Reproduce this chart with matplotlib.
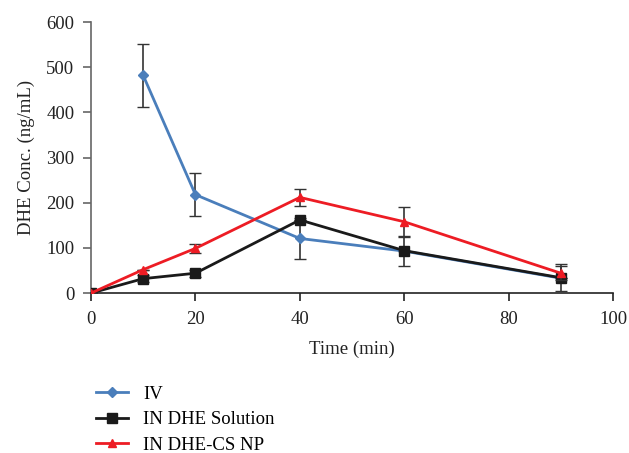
import matplotlib.pyplot as plt
import numpy as np

#---data---#
time = [0, 10, 20, 40, 60, 90]
iv = [0, 482, 218, 121, 93, 33]
iv_err = [0, 70, 47, 46, 0, 0]
sol = [0, 32, 44, 162, 94, 34]
sol_err = [0, 8, 8, 0, 33, 30]
np_cs = [0, 52, 99, 212, 158, 44]
np_err = [0, 0, 10, 18, 33, 16]
labels = ["IV", "IN DHE Solution", "IN DHE-CS NP"]

plt.rcParams['font.family'] = ['Liberation Serif', 'DejaVu Serif']

fig = plt.figure(figsize=(6.29, 4.53), dpi=100)
ax = fig.add_axes([0.1447, 0.353, 0.83, 0.598])

ax.errorbar(time[1:], iv[1:], yerr=iv_err[1:], color="#4a7ebb", lw=2, marker="D", ms=5,
            ecolor="#333333", elinewidth=1.2, capsize=4, label=labels[0], zorder=3)
ax.errorbar(time, sol, yerr=sol_err, color="#1a1a1a", lw=2, marker="s", ms=7,
            ecolor="#333333", elinewidth=1.2, capsize=4, label=labels[1], zorder=4)
ax.errorbar(time, np_cs, yerr=np_err, color="#ed1c24", lw=2, marker="^", ms=6,
            ecolor="#333333", elinewidth=1.2, capsize=4, label=labels[2], zorder=5)

ax.set_xlim(0, 100)
ax.set_ylim(0, 600)
ax.set_xticks(np.arange(0, 101, 20))
ax.set_yticks(np.arange(0, 601, 100))
ax.set_xlabel("Time (min)", fontsize=13.5, color="#222222", labelpad=9)
ax.set_ylabel("DHE Conc. (ng/mL)", fontsize=13.5, color="#222222", labelpad=8)
for s in ["top", "right"]:
    ax.spines[s].set_visible(False)
ax.spines["left"].set_color("#666666")
ax.spines["bottom"].set_color("#222222")
for s in ["left", "bottom"]:
    ax.spines[s].set_linewidth(1.2)
ax.tick_params(labelsize=13.5, direction="out", length=6, width=1.2, labelcolor="#222222")
ax.tick_params(axis="x", colors="#222222", pad=7)
ax.tick_params(axis="y", colors="#666666", labelcolor="#222222", pad=6)

h, l = ax.get_legend_handles_labels()
h = [hh[0] for hh in h]
fig.legend(h, l, loc="upper left", bbox_to_anchor=(0.14, 0.165), frameon=False,
           fontsize=13.5, handlelength=1.75, handletextpad=0.8, labelspacing=0.45,
           borderaxespad=0)

plt.savefig("out.png", dpi=100)
